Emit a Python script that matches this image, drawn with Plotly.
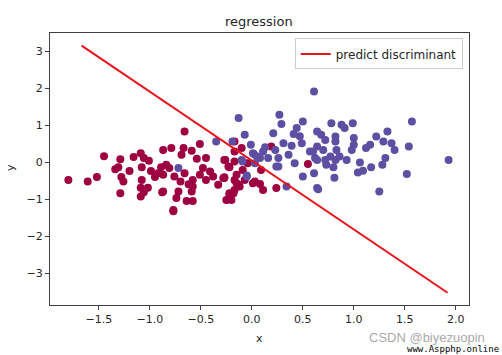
import plotly.graph_objects as go

# class 0 (red) points
red_x = [-1.80, -1.61, -1.52, -1.45, -1.29, -1.34, -1.31, -1.28, -1.26, -1.29, -1.20, -1.16, -1.09, -1.06,
         -1.01, -1.08, -0.99, -0.95, -1.08, -1.09, -1.02, -1.06, -1.09, -0.89, -0.87, -0.88,
         -0.66, -0.51, -0.67, -0.79, -0.59, -0.69, -0.54, -0.45, -0.26, -0.23, -0.17, -0.10, -0.04,
         -0.84, -0.81, -0.87, -0.76, -0.70, -0.66, -0.58, -0.51, -0.48, -0.41, -0.45, -0.38, -0.33,
         -0.27, -0.15, -0.15, -0.12, -0.18, -0.25, -0.58, -0.59, -0.72, -0.74, -0.64, -0.58, -0.77,
         -0.87, 0.03, -0.77, -0.20, -0.22, -0.17, 0.19, 0.55, -0.27, -0.22, -0.27, -0.17, -0.13,
         -0.07, 0.01, 0.08, 0.11, 0.24, -0.17, -0.22, 0.09, -0.17, -0.09, -0.28, -0.62, -0.92]
red_y = [-0.48, -0.52, -0.40, 0.16, 0.08, -0.19, -0.14, -0.40, -0.52, -0.84, -0.24, 0.14, 0.24, 0.11,
         0.04, -0.14, -0.24, -0.40, -0.48, -0.69, -0.69, -0.81, -0.93, -0.14, 0.33, -0.81,
         0.83, 0.49, 0.38, 0.38, 0.31, 0.20, 0.09, 0.11, 0.06, -0.12, 0.29, 0.38, -0.03,
         -0.07, -0.16, -0.34, -0.39, -0.52, -0.30, -0.48, -0.34, -0.16, -0.25, -0.48, -0.39, -0.61,
         -0.43, -0.34, -0.57, -0.66, -0.84, -1.02, -0.66, -0.79, -0.79, -0.97, -1.05, -1.05, -1.29,
         -0.79, -0.52, -1.33, -1.02, -0.84, 0.56, 0.42, -0.05, 0.06, -0.14, -0.41, -0.48, -0.61,
         -0.48, -0.57, -0.59, -0.75, -0.70, -0.75, -0.88, -0.21, 0.02, -0.21, -0.43, -0.60, -0.30]

# class 1 (blue) points
blue_x = [-0.13, -0.07, -0.01, -0.19, -0.35, -0.10, 0.02, -0.05, -0.72,
          0.61, 0.27, 0.29, 0.21, 0.44, 0.50, 0.41, 0.31, 0.39, 0.49, 0.23, 0.01, 0.11, 0.08, 0.16,
          0.26, -0.09, 0.03, 0.26, 0.42, 0.57, 0.62, 0.50, 0.64, 0.34, -0.05,
          0.78, 0.88, 0.91, 0.99, 1.57, 1.33, 0.64, 0.68, 0.82, 0.72, 0.82, 1.00, 1.00, 0.98, 1.22,
          1.29, 1.37, 1.40, 1.16, 1.12, 1.54, 1.93, 0.64, 0.70, 0.60, 0.83, 0.77, 0.86, 0.93, 0.72,
          0.64, 0.82, 1.06, 1.31, 1.28, 1.17, 1.09, 1.04, 0.73, 0.80, 0.61, 0.81, 1.52, 0.65, 1.25,
          0.24, 0.13, 0.05, 0.36, 0.47]
blue_y = [1.19, 0.74, 0.47, 0.56, 0.56, 0.06, 0.22, -0.36, -0.16,
          1.91, 1.28, 1.03, 0.78, 0.92, 1.10, 0.76, 0.51, 0.44, 0.51, 0.33, 0.24, 0.29, 0.11, 0.11,
          0.11, 0.02, -0.03, -0.12, -0.03, 0.29, 0.11, -0.39, -0.70, -0.66, -0.39,
          1.05, 1.01, 0.92, 1.05, 1.10, 0.83, 0.83, 0.74, 0.69, 0.60, 0.56, 0.65, 0.47, 0.33, 0.69,
          0.56, 0.51, 0.33, 0.47, 0.38, 0.42, 0.06, 0.42, 0.33, 0.29, 0.33, 0.15, 0.15, 0.06, 0.06,
          0.06, 0.06, -0.01, 0.11, -0.07, -0.14, -0.23, -0.28, -0.07, -0.14, -0.30, -0.42, -0.32, -0.73, -0.79,
          -0.12, 0.40, 0.15, 0.20, 0.70]

# discriminant line endpoints
line_x = [-1.67, 1.92]
line_y = [3.15, -3.53]

x_ticks = [-1.5, -1.0, -0.5, 0.0, 0.5, 1.0, 1.5, 2.0]
x_tick_labels = ["\u22121.5", "\u22121.0", "\u22120.5", "0.0", "0.5", "1.0", "1.5", "2.0"]
y_ticks = [-3, -2, -1, 0, 1, 2, 3]
y_tick_labels = ["\u22123", "\u22122", "\u22121", "0", "1", "2", "3"]

RED = "#9e0142"
BLUE = "#5e4fa2"
TXT = "#262626"

fig = go.Figure()
fig.add_trace(go.Scatter(x=red_x, y=red_y, mode="markers", showlegend=False,
                         marker=dict(color=RED, size=8, line=dict(width=0))))
fig.add_trace(go.Scatter(x=blue_x, y=blue_y, mode="markers", showlegend=False,
                         marker=dict(color=BLUE, size=8, line=dict(width=0))))
fig.add_trace(go.Scatter(x=line_x, y=line_y, mode="lines", name="predict discriminant",
                         line=dict(color="#e8141c", width=2)))

axis_common = dict(showgrid=False, zeroline=False, showline=True, mirror=True,
                   linecolor="#404040", linewidth=1, ticks="outside", ticklen=4,
                   tickcolor="#404040", tickfont=dict(size=11, color=TXT), automargin=False)

W, H = 502, 355
L, R, T, B = 50, 33, 33, 50
pw, ph = W - L - R, H - T - B


def px_to_paper(px, py):
    return (px - L) / pw, (H - B - py) / ph


ax_x = px_to_paper(259, 338)
ax_y = px_to_paper(10, 168)
wm1 = px_to_paper(487, 337)
wm2 = px_to_paper(501, 349)

fig.update_layout(
    width=W, height=H,
    margin=dict(l=L, r=R, t=T, b=B, autoexpand=False),
    paper_bgcolor="white", plot_bgcolor="white",
    font=dict(family="DejaVu Sans", color=TXT),
    title=dict(text="regression", x=0.5155, xanchor="center", y=0.94, yanchor="middle",
               font=dict(size=13, color=TXT)),
    xaxis=dict(range=[-1.98, 2.13], tickvals=x_ticks, ticktext=x_tick_labels, **axis_common),
    yaxis=dict(range=[-3.86, 3.49], tickvals=y_ticks, ticktext=y_tick_labels, **axis_common),
    legend=dict(x=0.985, y=0.98, xanchor="right", yanchor="top", tracegroupgap=0,
                bordercolor="#cccccc", borderwidth=1, bgcolor="rgba(255,255,255,0.8)",
                font=dict(size=12, color=TXT)),
    annotations=[
        dict(text="x", xref="paper", yref="paper", x=ax_x[0], y=ax_x[1],
             xanchor="center", yanchor="middle", showarrow=False, font=dict(size=11, color=TXT)),
        dict(text="y", xref="paper", yref="paper", x=ax_y[0], y=ax_y[1], textangle=-90,
             xanchor="center", yanchor="middle", showarrow=False, font=dict(size=11, color=TXT)),
        dict(text="CSDN @biyezuopin", xref="paper", yref="paper", x=wm1[0], y=wm1[1],
             xanchor="right", yanchor="middle", showarrow=False,
             font=dict(family="Liberation Sans", size=13, color="#aaaaaa")),
        dict(text="www.Aspphp.online", xref="paper", yref="paper", x=wm2[0], y=wm2[1],
             xanchor="right", yanchor="middle", showarrow=False,
             font=dict(family="DejaVu Sans Mono", size=9, color="#000000")),
    ],
)

fig.write_html("out.html", config={"displayModeBar": False},
               post_script="document.body.style.margin='0';document.body.style.overflow='hidden';")
